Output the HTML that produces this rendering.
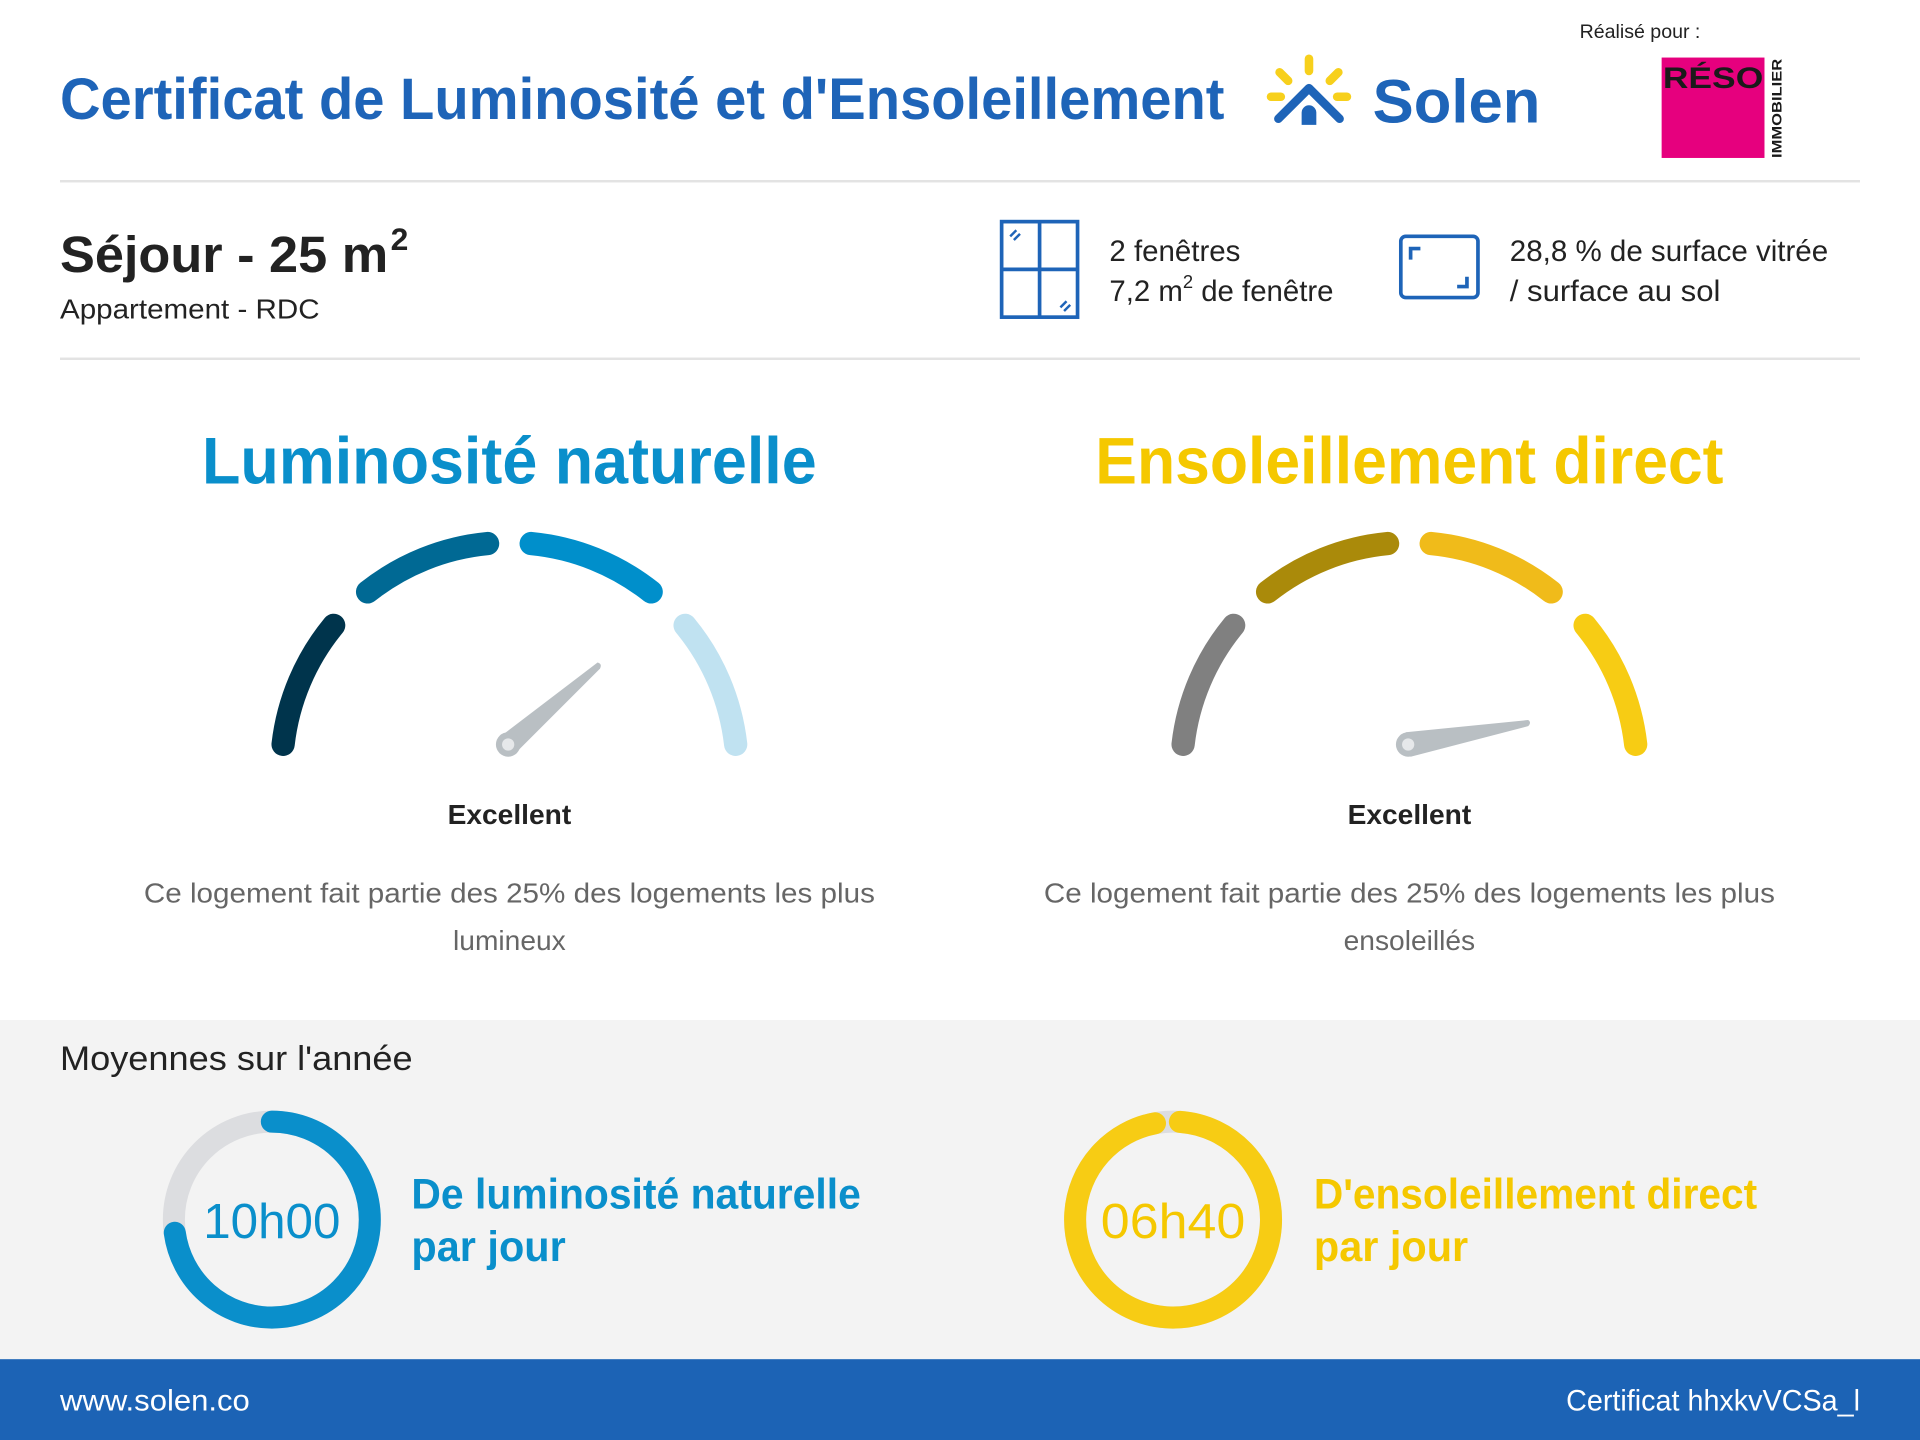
<!DOCTYPE html>
<html><head><meta charset="utf-8"><style>
html,body{margin:0;padding:0;background:#fff}
svg{display:block}
text{font-family:"Liberation Sans",sans-serif}
</style></head><body>
<svg width="1920" height="1440" viewBox="0 0 1568 1176" xmlns="http://www.w3.org/2000/svg">
<rect width="1568" height="1176" fill="#fff"/>
<!-- header -->
<text x="49" y="97" font-size="48" font-weight="bold" fill="#1e64b8" textLength="951" lengthAdjust="spacingAndGlyphs">Certificat de Luminosité et d'Ensoleillement</text>
<g>
 <g stroke="#f7d01c" stroke-width="7" stroke-linecap="round">
  <line x1="1069" y1="48" x2="1069" y2="58"/>
  <line x1="1045" y1="59" x2="1052" y2="66"/>
  <line x1="1093" y1="59" x2="1086" y2="66"/>
  <line x1="1038" y1="79" x2="1046" y2="79"/>
  <line x1="1092" y1="79" x2="1100" y2="79"/>
 </g>
 <polyline points="1044,97 1069,72 1094,97" fill="none" stroke="#1e64b8" stroke-width="7" stroke-linecap="round" stroke-linejoin="round"/>
 <path d="M1063,102 L1063,92 A6,6 0 0 1 1075,92 L1075,102 Z" fill="#1e64b8"/>
</g>
<text x="1121" y="100" font-size="50" font-weight="bold" fill="#1e64b8" textLength="137" lengthAdjust="spacingAndGlyphs">Solen</text>
<text x="1290" y="31" font-size="16" fill="#222">Réalisé pour :</text>
<rect x="1357" y="47" width="84" height="82" fill="#e6007e"/>
<text x="1358" y="72" font-size="24" font-weight="bold" fill="#1a1a1a" textLength="82" lengthAdjust="spacingAndGlyphs">RÉSO</text>
<text transform="translate(1455,129) rotate(-90)" font-size="11" font-weight="bold" fill="#1a1a1a" textLength="81" lengthAdjust="spacingAndGlyphs">IMMOBILIER</text>
<rect x="49" y="147" width="1470" height="2" fill="#e3e3e3"/>
<!-- room info -->
<text x="49" y="222" font-size="42" font-weight="bold" fill="#222" textLength="268" lengthAdjust="spacingAndGlyphs">Séjour - 25 m</text>
<text x="319" y="204" font-size="26" font-weight="bold" fill="#222">2</text>
<text x="49" y="260" font-size="23" fill="#222" textLength="212" lengthAdjust="spacingAndGlyphs">Appartement - RDC</text>
<g fill="none" stroke="#1e64b8" stroke-width="3">
 <rect x="818" y="181" width="62" height="78"/>
 <line x1="849" y1="181" x2="849" y2="259"/>
 <line x1="818" y1="220" x2="880" y2="220"/>
 <line x1="825" y1="193" x2="830" y2="188" stroke-width="2"/>
 <line x1="828" y1="196" x2="833" y2="191" stroke-width="2"/>
 <line x1="866" y1="251" x2="871" y2="246" stroke-width="2"/>
 <line x1="869" y1="254" x2="874" y2="249" stroke-width="2"/>
 <rect x="1144" y="193" width="63" height="50" rx="4"/>
 <polyline points="1152,212 1152,203 1160,203"/>
 <polyline points="1190,234 1198,234 1198,226"/>
</g>
<text x="906" y="213" font-size="24" fill="#222" textLength="107" lengthAdjust="spacingAndGlyphs">2 fenêtres</text>
<text x="906" y="246" font-size="24" fill="#222">7,2 m<tspan dy="-11" font-size="15">2</tspan><tspan dy="11"> de fenêtre</tspan></text>
<text x="1233" y="213" font-size="24" fill="#222" textLength="260" lengthAdjust="spacingAndGlyphs">28,8 % de surface vitrée</text>
<text x="1233" y="246" font-size="24" fill="#222" textLength="172" lengthAdjust="spacingAndGlyphs">/ surface au sol</text>
<rect x="49" y="292" width="1470" height="2" fill="#e3e3e3"/>
<!-- gauge titles -->
<text x="416" y="395" font-size="54" font-weight="bold" fill="#0a8fcb" text-anchor="middle" textLength="502" lengthAdjust="spacingAndGlyphs">Luminosité naturelle</text>
<text x="1151" y="395" font-size="54" font-weight="bold" fill="#f5c800" text-anchor="middle" textLength="513" lengthAdjust="spacingAndGlyphs">Ensoleillement direct</text>
<!-- gauge 1 -->
<g fill="none" stroke-width="19" stroke-linecap="round">
 <path d="M231.2,607.9 A186,186 0 0 1 272.5,510.7" stroke="#00344c"/>
 <path d="M300.2,483.4 A186,186 0 0 1 398.2,443.9" stroke="#006994"/>
 <path d="M433.8,443.9 A186,186 0 0 1 531.8,483.4" stroke="#008fcb"/>
 <path d="M559.5,510.7 A186,186 0 0 1 600.8,607.9" stroke="#c0e2f1"/>
</g>
<path d="M408,602 L488,541 Q492,542 490,546 L422,614 Z" fill="#b9bfc3"/>
<circle cx="415" cy="608" r="10" fill="#b9bfc3"/>
<circle cx="415" cy="608" r="5" fill="#e6e8ea"/>
<!-- gauge 2 -->
<g fill="none" stroke-width="19" stroke-linecap="round">
 <path d="M966.2,607.9 A186,186 0 0 1 1007.5,510.7" stroke="#808080"/>
 <path d="M1035.2,483.4 A186,186 0 0 1 1133.2,443.9" stroke="#aa8a0a"/>
 <path d="M1168.8,443.9 A186,186 0 0 1 1266.8,483.4" stroke="#f0bb1a"/>
 <path d="M1294.5,510.7 A186,186 0 0 1 1335.8,607.9" stroke="#f7cc14"/>
</g>
<path d="M1148,598 L1248,588 Q1251,590 1248,593 L1152,618 Z" fill="#b9bfc3"/>
<circle cx="1150" cy="608" r="10" fill="#b9bfc3"/>
<circle cx="1150" cy="608" r="5" fill="#e6e8ea"/>
<!-- labels -->
<text x="416" y="673" font-size="23" font-weight="bold" fill="#222" text-anchor="middle">Excellent</text>
<text x="1151" y="673" font-size="23" font-weight="bold" fill="#222" text-anchor="middle">Excellent</text>
<g font-size="23" fill="#666" text-anchor="middle">
 <text x="416" y="737" textLength="597" lengthAdjust="spacingAndGlyphs">Ce logement fait partie des 25% des logements les plus</text>
 <text x="416" y="776">lumineux</text>
 <text x="1151" y="737" textLength="597" lengthAdjust="spacingAndGlyphs">Ce logement fait partie des 25% des logements les plus</text>
 <text x="1151" y="776">ensoleillés</text>
</g>
<!-- averages -->
<rect x="0" y="833" width="1568" height="278" fill="#f3f3f3"/>
<text x="49" y="874" font-size="28" fill="#222" textLength="288" lengthAdjust="spacingAndGlyphs">Moyennes sur l'année</text>
<circle cx="222" cy="996" r="80" fill="none" stroke="#dcdde0" stroke-width="18"/>
<circle cx="222" cy="996" r="80" fill="none" stroke="#0a8fcb" stroke-width="18" stroke-linecap="round" stroke-dasharray="366 600" transform="rotate(-90 222 996)"/>
<text x="222" y="1011" font-size="40" fill="#0a8fcb" text-anchor="middle" textLength="112" lengthAdjust="spacingAndGlyphs">10h00</text>
<text x="336" y="987" font-size="35" font-weight="bold" fill="#0a8fcb" textLength="367" lengthAdjust="spacingAndGlyphs">De luminosité naturelle</text>
<text x="336" y="1030" font-size="35" font-weight="bold" fill="#0a8fcb" textLength="126" lengthAdjust="spacingAndGlyphs">par jour</text>
<circle cx="958" cy="996" r="80" fill="none" stroke="#dcdde0" stroke-width="18"/>
<circle cx="958" cy="996" r="80" fill="none" stroke="#f7cc14" stroke-width="18" stroke-linecap="round" stroke-dasharray="482 600" transform="rotate(-86 958 996)"/>
<text x="958" y="1011" font-size="40" fill="#f5c800" text-anchor="middle" textLength="118" lengthAdjust="spacingAndGlyphs">06h40</text>
<text x="1073" y="987" font-size="35" font-weight="bold" fill="#f5c800" textLength="362" lengthAdjust="spacingAndGlyphs">D'ensoleillement direct</text>
<text x="1073" y="1030" font-size="35" font-weight="bold" fill="#f5c800" textLength="126" lengthAdjust="spacingAndGlyphs">par jour</text>
<!-- footer -->
<rect x="0" y="1110" width="1568" height="66" fill="#1c63b5"/>
<text x="49" y="1152" font-size="24" fill="#fff" textLength="155" lengthAdjust="spacingAndGlyphs">www.solen.co</text>
<text x="1519" y="1152" font-size="24" fill="#fff" text-anchor="end" textLength="240" lengthAdjust="spacingAndGlyphs">Certificat hhxkvVCSa_l</text>
</svg>
</body></html>
